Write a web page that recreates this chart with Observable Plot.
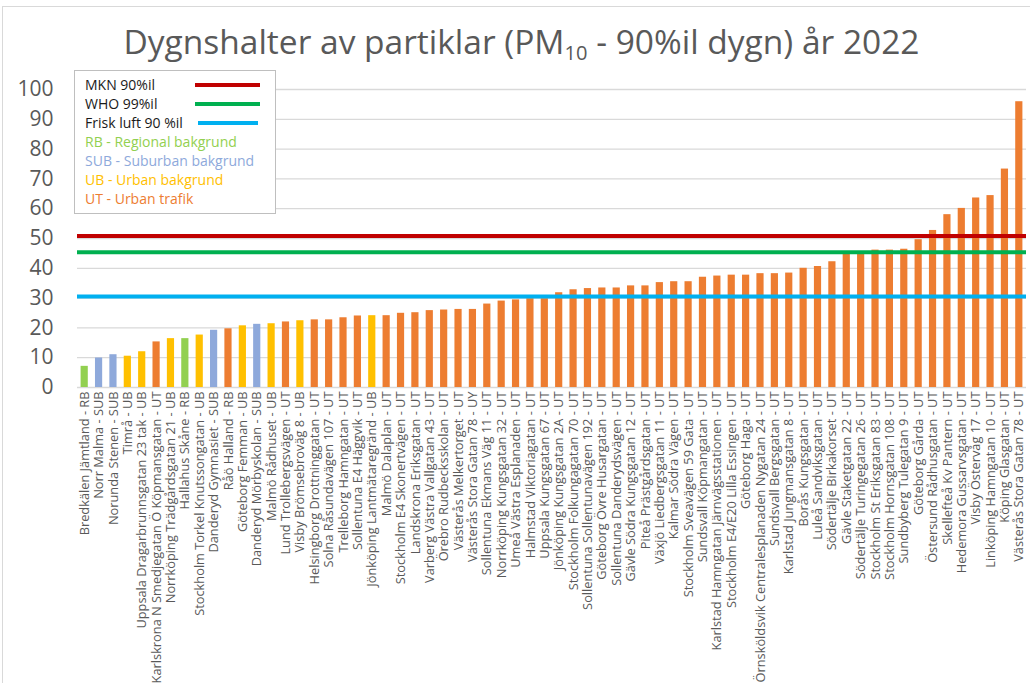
<!DOCTYPE html>
<html>
<head>
<meta charset="utf-8">
<script src="https://cdn.jsdelivr.net/npm/d3@7"></script>
<script src="https://cdn.jsdelivr.net/npm/@observablehq/plot@0.6"></script>
<style>
  html, body { margin: 0; padding: 0; background: #fff; }
  #wrap { position: relative; width: 1030px; height: 683px; overflow: hidden; font-family: "Open Sans", sans-serif; }
  #frame { position: absolute; left: 2px; top: 6px; width: 1100px; height: 800px; border: 1px solid #d9d9d9; box-sizing: border-box; }
  #title { position: absolute; left: 0; width: 1043px; top: 25px; text-align: center; font-size: 33.5px; line-height: 1; color: #595959; white-space: nowrap; }
  #title sub { font-size: 60%; vertical-align: -0.28em; line-height: 0; }
  #legend { position: absolute; left: 74px; top: 70px; width: 202px; height: 144px; border: 1px solid #bfbfbf; background: #fff; box-sizing: border-box; }
  .lrow { position: absolute; left: 10px; font-size: 14px; line-height: 18px; white-space: nowrap; }
  .lline { position: absolute; height: 4px; }
  #chart { position: absolute; left: 0; top: 0; }
</style>
</head>
<body>
<div id="wrap">
  <div id="frame"></div>
  <div id="chart"></div>
  <div id="title"></div>
  <div id="legend"></div>
</div>
<script>
const names = [
  "Bredkälen Jämtland - RB",
  "Norr Malma - SUB",
  "Norunda Stenen - SUB",
  "Timrå - UB",
  "Uppsala Dragarbrunnsgatan 23 tak - UB",
  "Karlskrona N Smedjegatan Ö Köpmansgatan - UT",
  "Norrköping Trädgårdsgatan 21 - UB",
  "Hallahus Skåne - RB",
  "Stockholm Torkel Knutssongatan - UB",
  "Danderyd Gymnasiet - SUB",
  "Råö Halland - RB",
  "Göteborg Femman - UB",
  "Danderyd Mörbyskolan - SUB",
  "Malmö Rådhuset - UB",
  "Lund Trollebergsvägen - UT",
  "Visby Brömsebroväg 8 - UB",
  "Helsingborg Drottninggatan - UT",
  "Solna Råsundavägen 107 - UT",
  "Trelleborg Hamngatan - UT",
  "Sollentuna E4 Häggvik - UT",
  "Jönköping Lantmätaregränd - UB",
  "Malmö Dalaplan - UT",
  "Stockholm E4 Skonertvägen - UT",
  "Landskrona Eriksgatan - UT",
  "Varberg Västra Vallgatan 43 - UT",
  "Örebro Rudbecksskolan - UT",
  "Västerås Melkertorget - UT",
  "Västerås Stora Gatan 78 - UY",
  "Sollentuna Ekmans Väg 11 - UT",
  "Norrköping Kungsgatan 32 - UT",
  "Umeå Västra Esplanaden - UT",
  "Halmstad Viktoriagatan - UT",
  "Uppsala Kungsgatan 67 - UT",
  "Jönköping Kungsgatan 2A - UT",
  "Stockholm Folkungagatan 70 - UT",
  "Sollentuna Sollentunavägen 192 - UT",
  "Göteborg Övre Husargatan - UT",
  "Sollentuna Danderydsvägen - UT",
  "Gävle Södra Kungsgatan 12 - UT",
  "Piteå Prästgårdsgatan - UT",
  "Växjö Liedbergsgatan 11 - UT",
  "Kalmar Södra Vägen - UT",
  "Stockholm Sveavägen 59 Gata - UT",
  "Sundsvall Köpmangatan - UT",
  "Karlstad Hamngatan Järnvägsstationen - UT",
  "Stockholm E4/E20 Lilla Essingen - UT",
  "Göteborg Haga - UT",
  "Örnsköldsvik Centralesplanaden Nygatan 24 - UT",
  "Sundsvall Bergsgatan - UT",
  "Karlstad Jungmansgatan 8 - UT",
  "Borås Kungsgatan - UT",
  "Luleå Sandviksgatan - UT",
  "Södertälje Birkakorset - UT",
  "Gävle Staketgatan 22 - UT",
  "Södertälje Turingegatan 26 - UT",
  "Stockholm St Eriksgatan 83 - UT",
  "Stockholm Hornsgatan 108 - UT",
  "Sundbyberg Tulegatan 9 - UT",
  "Göteborg Gårda - UT",
  "Östersund Rådhusgatan - UT",
  "Skellefteå Kv Pantern - UT",
  "Hedemora Gussarvsgatan - UT",
  "Visby Östervåg 17 - UT",
  "Linköping Hamngatan 10 - UT",
  "Köping Glasgatan - UT",
  "Västerås Stora Gatan 78 - UT"
];
const values = [
  7.1, 9.9, 11.0, 10.5, 12.0, 15.3, 16.4, 16.4, 17.6, 19.2,
  19.7, 20.7, 21.2, 21.4, 22.0, 22.4, 22.7, 22.7, 23.4, 24.0,
  24.1, 24.1, 24.9, 25.1, 25.8, 26.0, 26.2, 26.2, 28.0, 29.0,
  29.4, 29.8, 29.8, 31.8, 32.8, 33.2, 33.4, 33.4, 34.1, 34.1,
  35.2, 35.5, 35.5, 37.0, 37.4, 37.7, 37.7, 38.2, 38.2, 38.4,
  40.0, 40.6, 42.2, 44.9, 45.4, 46.1, 46.1, 46.4, 49.6, 52.7,
  58.0, 60.1, 63.6, 64.4, 73.3, 95.9
];
const groups = [
  "RB","SUB","SUB","UB","UB","UT","UB","RB","UB","SUB",
  "UT","UB","SUB","UB","UT","UB","UT","UT","UT","UT",
  "UB","UT","UT","UT","UT","UT","UT","UT","UT","UT",
  "UT","UT","UT","UT","UT","UT","UT","UT","UT","UT",
  "UT","UT","UT","UT","UT","UT","UT","UT","UT","UT",
  "UT","UT","UT","UT","UT","UT","UT","UT","UT","UT",
  "UT","UT","UT","UT","UT","UT"
];
const groupKeys = ["RB","SUB","UB","UT"];
const groupLabels = ["RB - Regional  bakgrund","SUB - Suburban bakgrund","UB - Urban bakgrund","UT - Urban trafik"];
const groupColors = ["#92D050","#8EA9DB","#FFC000","#ED7D31"];

const refNames = ["MKN 90%il","WHO 99%il","Frisk luft 90 %il"];
const refValues = [50.8, 45.4, 30.5];
const refColors = ["#C00000","#00B050","#00B0F0"];

const yTicks = [0,10,20,30,40,50,60,70,80,90,100];

const bars = names.map((n, i) => ({name: n, value: values[i], group: groups[i]}));
const refs = refNames.map((n, i) => ({name: n, value: refValues[i], color: refColors[i]}));

const chart = Plot.plot({
  width: 1030,
  height: 683,
  marginLeft: 77,
  marginRight: 4,
  marginTop: 89,
  marginBottom: 296,
  style: {fontFamily: "'Open Sans', sans-serif", color: "#595959", background: "transparent"},
  x: {domain: names, paddingInner: 0.5, paddingOuter: 0.25, round: false, label: null},
  y: {domain: [0, 100], label: null},
  color: {domain: groupKeys, range: groupColors},
  marks: [
    Plot.gridY(yTicks, {stroke: "#d9d9d9", strokeOpacity: 1, strokeWidth: 1.3}),
    Plot.axisY(yTicks, {tickSize: 0, tickPadding: 24, fontSize: 21, fill: "#595959", label: null}),
    Plot.axisX({tickSize: 0, tickPadding: 4, tickRotate: -90, fontSize: 12.8, fill: "#595959", label: null}),
    Plot.barY(bars, {x: "name", y: "value", fill: "group"}),
    Plot.ruleY(refs, {y: "value", stroke: "color", strokeWidth: 4})
  ]
});
document.getElementById("chart").appendChild(chart);

document.getElementById("title").innerHTML = "Dygnshalter av partiklar (PM<sub>10</sub> - 90%il dygn) år 2022";

const legend = document.getElementById("legend");
const rowTops = [5, 24, 43, 62, 81, 100, 119];
refNames.forEach((n, i) => {
  const r = document.createElement("div");
  r.className = "lrow"; r.style.top = rowTops[i] + "px"; r.style.color = "#1a1a1a";
  r.textContent = n; legend.appendChild(r);
  const l = document.createElement("div");
  l.className = "lline"; l.style.background = refColors[i];
  l.style.left = (i === 2 ? 123 : 120) + "px"; l.style.width = (i === 2 ? 60 : 65) + "px";
  l.style.top = (rowTops[i] + 7) + "px";
  legend.appendChild(l);
});
groupLabels.forEach((n, i) => {
  const r = document.createElement("div");
  r.className = "lrow"; r.style.top = rowTops[i + 3] + "px"; r.style.color = groupColors[i];
  r.textContent = n; legend.appendChild(r);
});
</script>
</body>
</html>
